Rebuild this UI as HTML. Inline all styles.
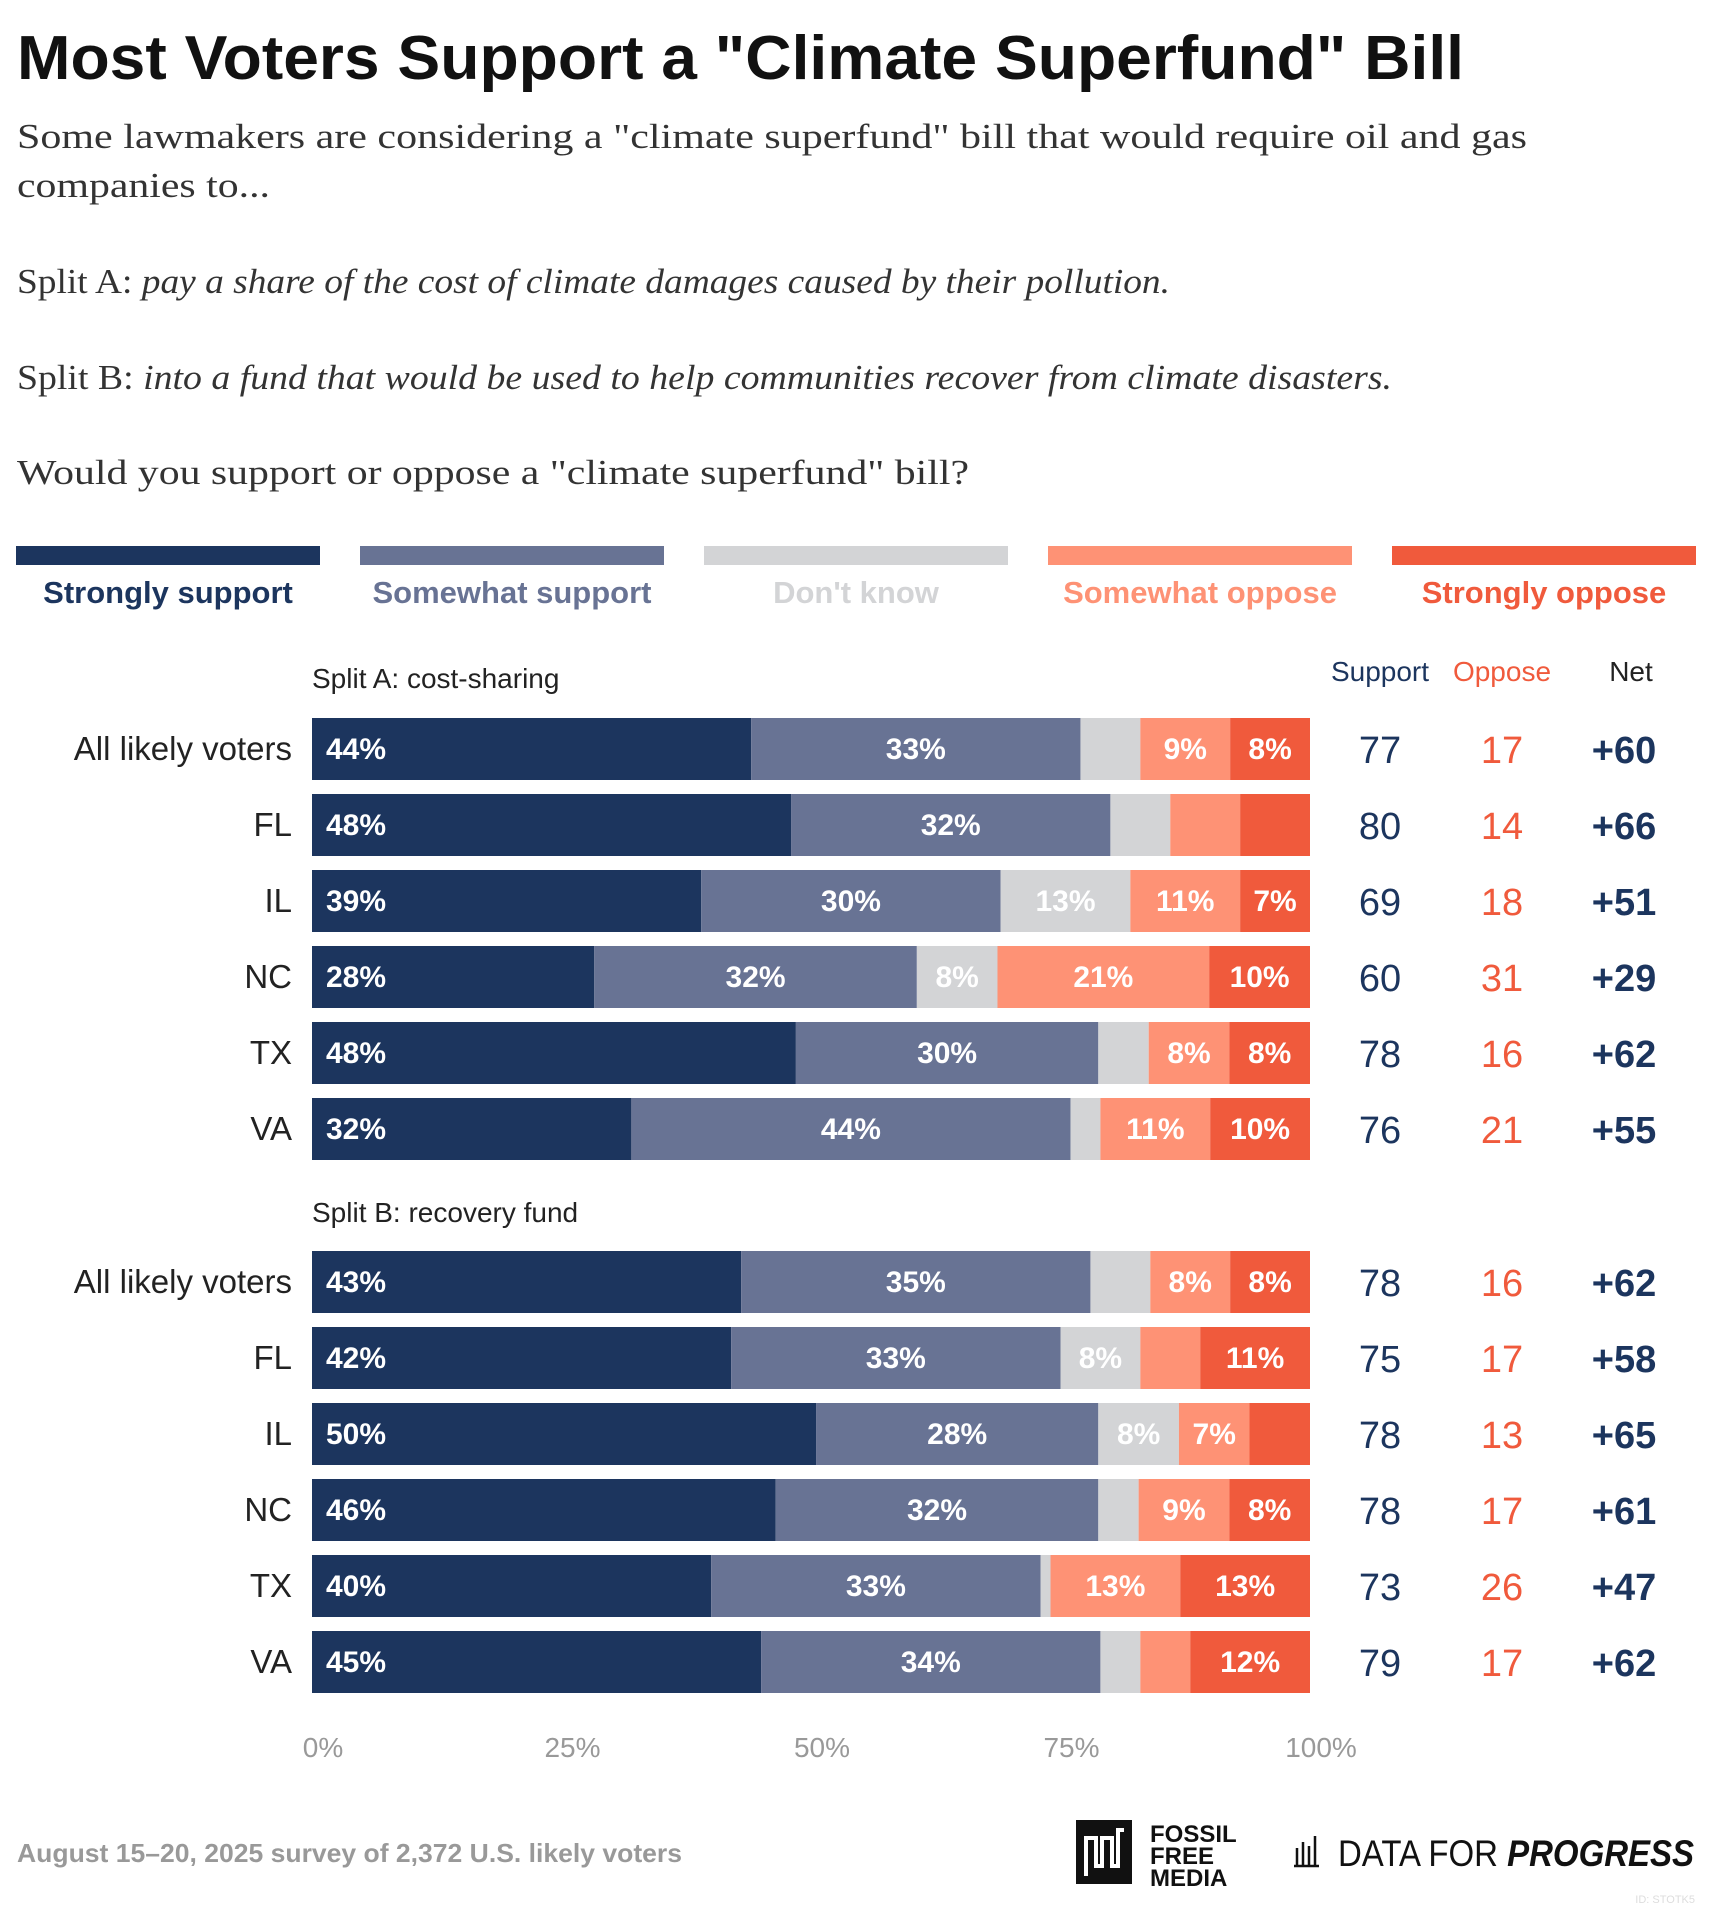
<!DOCTYPE html>
<html><head><meta charset="utf-8"><style>
html,body{margin:0;padding:0;background:#fff;}
svg{display:block;}
</style></head><body>
<svg id="chart" width="1712" height="1908" viewBox="0 0 1712 1908" xmlns="http://www.w3.org/2000/svg" font-family="'Liberation Sans', sans-serif">
<text x="17" y="79" font-size="62" font-weight="bold" fill="#111" textLength="1447" lengthAdjust="spacingAndGlyphs">Most Voters Support a "Climate Superfund" Bill</text>
<g font-family="'Liberation Serif', serif" font-size="35" fill="#333">
<text x="17" y="148" textLength="1510" lengthAdjust="spacingAndGlyphs">Some lawmakers are considering a "climate superfund" bill that would require oil and gas</text>
<text x="17" y="197" textLength="253" lengthAdjust="spacingAndGlyphs">companies to...</text>
<text x="17" y="293" textLength="1153" lengthAdjust="spacingAndGlyphs">Split A: <tspan font-style="italic">pay a share of the cost of climate damages caused by their pollution.</tspan></text>
<text x="17" y="389" textLength="1375" lengthAdjust="spacingAndGlyphs">Split B: <tspan font-style="italic">into a fund that would be used to help communities recover from climate disasters.</tspan></text>
<text x="17" y="484" textLength="952" lengthAdjust="spacingAndGlyphs">Would you support or oppose a "climate superfund" bill?</text>
</g>
<g id="legend"></g>
<g id="bars"></g>
<g id="axis"></g>
<text x="17" y="1862" font-size="26" font-weight="bold" fill="#999" textLength="665" lengthAdjust="spacingAndGlyphs">August 15–20, 2025 survey of 2,372 U.S. likely voters</text>
<g>
<rect x="1076" y="1820" width="56" height="64" fill="#111"/>
<path d="M1086 1876 V1838 H1096 V1866 H1102 V1838 H1112 V1866 H1118 V1830 H1124" stroke="#fff" stroke-width="4" fill="none"/>
<text x="1150" y="1842" font-size="24" font-weight="bold" fill="#111">FOSSIL</text>
<text x="1150" y="1864" font-size="24" font-weight="bold" fill="#111">FREE</text>
<text x="1150" y="1886" font-size="24" font-weight="bold" fill="#111">MEDIA</text>
</g>
<g>
<path d="M1297 1866 V1848 M1303 1866 V1842 M1309 1866 V1846 M1315 1866 V1836 M1294 1866 H1319" stroke="#111" stroke-width="2.5" fill="none"/>
<text x="1338" y="1866" font-size="37" fill="#111" textLength="356" lengthAdjust="spacingAndGlyphs">DATA FOR <tspan font-weight="bold" font-style="italic">PROGRESS</tspan></text>
</g>
<text x="1695" y="1903" font-size="11" fill="#ddd" text-anchor="end">ID: STOTK5</text>
</svg>
<script>
const categoriesA = ["All likely voters","FL","IL","NC","TX","VA"];
const categoriesB = ["All likely voters","FL","IL","NC","TX","VA"];
const strongSupportA = [44,48,39,28,48,32];
const someSupportA   = [33,32,30,32,30,44];
const dontKnowA      = [6,6,13,8,5,3];
const someOpposeA    = [9,7,11,21,8,11];
const strongOpposeA  = [8,7,7,10,8,10];
const strongSupportB = [43,42,50,46,40,45];
const someSupportB   = [35,33,28,32,33,34];
const dontKnowB      = [6,8,8,4,1,4];
const someOpposeB    = [8,6,7,9,13,5];
const strongOpposeB  = [8,11,6,8,13,12];
const supportA = [77,80,69,60,78,76];
const opposeA  = [17,14,18,31,16,21];
const netA     = ["+60","+66","+51","+29","+62","+55"];
const supportB = [78,75,78,78,73,79];
const opposeB  = [16,17,13,17,26,17];
const netB     = ["+62","+58","+65","+61","+47","+62"];
const hideLabelsA = [[],[3,4],[],[],[],[]];
const hideLabelsB = [[],[],[],[],[],[]];
const tickValues = [0,25,50,75,100];
const tickLabels = ["0%","25%","50%","75%","100%"];
const legendLabels = ["Strongly support","Somewhat support","Don't know","Somewhat oppose","Strongly oppose"];

const NS="http://www.w3.org/2000/svg";
const colors=["#1c355e","#687394","#d3d4d6","#fe9275","#f05a3c"];
const legendText=["#1c355e","#687394","#d3d4d6","#fe9275","#f05a3c"];
const X0=312, X1=1310;
const x=v=>X0+(X1-X0)*v/100;
function mk(tag,attrs,parent){const e=document.createElementNS(NS,tag);for(const k in attrs)e.setAttribute(k,attrs[k]);parent.appendChild(e);return e;}

const legend=document.getElementById('legend');
legendLabels.forEach((lab,i)=>{
  const lx=16+i*344;
  const r=mk('rect',{x:lx,y:546,width:304,height:19,fill:colors[i]},legend);
  
  
  const t=mk('text',{x:lx+152,y:603,'text-anchor':'middle','font-size':31,'font-weight':'bold',fill:legendText[i]},legend);
  
  
  t.textContent=lab;
});

const bars=document.getElementById('bars');
function header(y,txt){
  const t=mk('text',{x:312,y:y,'font-size':28,fill:'#222'},bars);
  
  
  t.textContent=txt;
}
header(688,"Split A: cost-sharing");
header(1222,"Split B: recovery fund");
[["Support",1380,"#1c355e"],["Oppose",1502,"#f05a3c"],["Net",1631,"#222"]].forEach(h=>{
  const t=mk('text',{x:h[1],y:681,'text-anchor':'middle','font-size':28,fill:h[2]},bars);
  
  
  t.textContent=h[0];
});

function group(cats,series,sup,opp,net,hide,top){
  cats.forEach((c,r)=>{
    const y=top+r*76, h=62, cy=y+h/2;
    const lab=mk('text',{x:292,y:cy+11,'text-anchor':'end','font-size':33,fill:'#222'},bars);
    
    
    lab.textContent=c;
    let total=0;
    series.forEach(s=>{total+=s[r];});
    const sc=100/total;
    let acc=0;
    series.forEach((s,k)=>{
      const v=s[r];
      const a=acc*sc, b=(acc+v)*sc;
      const rect=mk('rect',{x:x(a),y:y,width:Math.max(0,x(b)-x(a)),height:h,fill:colors[k]},bars);
      
      
      if(v>=7 && hide[r].indexOf(k)<0){
        const tx = k===0 ? x(a)+14 : (x(a)+x(b))/2;
        const t=mk('text',{x:tx,y:cy+10,'text-anchor':k===0?'start':'middle','font-size':30,'font-weight':'bold',fill:'#fff'},bars);
        
        
        t.textContent=v+"%";
      }
      acc+=v;
    });
    [[sup[r],1380,"#1c355e","normal"],[opp[r],1502,"#f05a3c","normal"],[net[r],1624,"#1c355e","bold"]].forEach(n=>{
      const t=mk('text',{x:n[1],y:cy+14,'text-anchor':'middle','font-size':38,'font-weight':n[3],fill:n[2]},bars);
      
      
      t.textContent=n[0];
    });
  });
}
group(categoriesA,[strongSupportA,someSupportA,dontKnowA,someOpposeA,strongOpposeA],supportA,opposeA,netA,hideLabelsA,718);
group(categoriesB,[strongSupportB,someSupportB,dontKnowB,someOpposeB,strongOpposeB],supportB,opposeB,netB,hideLabelsB,1251);

const axis=document.getElementById('axis');
tickValues.forEach((v,i)=>{
  const t=mk('text',{x:x(v)+11,y:1757,'text-anchor':'middle','font-size':28,fill:'#999'},axis);
  
  
  t.textContent=tickLabels[i];
});
</script>
</body></html>
